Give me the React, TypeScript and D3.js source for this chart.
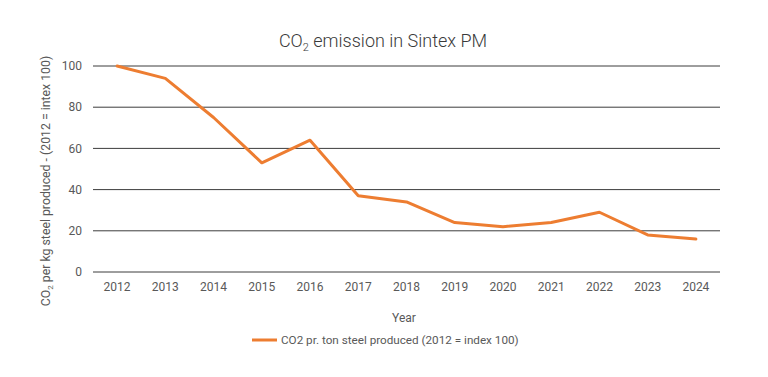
import React from "react";
import * as d3 from "d3";

const years = ["2012","2013","2014","2015","2016","2017","2018","2019","2020","2021","2022","2023","2024"];
const values = [100, 94, 75, 53, 64, 37, 34, 24, 22, 24, 29, 18, 16];
const yTicks = [0, 20, 40, 60, 80, 100];
const seriesName = "CO2 pr. ton steel produced (2012 = index 100)";

export default function App() {
  const W = 768, H = 377;
  const left = 93, right = 720, top = 66, bottom = 272;
  const x = d3.scaleBand<string>().domain(years).range([left, right]);
  const y = d3.scaleLinear().domain([0, 100]).range([bottom, top]);
  const line = d3.line<number>()
    .x((_, i) => (x(years[i]) as number) + x.bandwidth() / 2)
    .y((d) => y(d));
  const font = "Roboto, 'Noto Sans', sans-serif";
  return (
    <svg width={W} height={H} style={{ position: "absolute", left: 0, top: 0, background: "#fff" }} fontFamily={font}>
      <rect width={W} height={H} fill="#fff" />
      <text x={383} y={47} textAnchor="middle" fontSize={18} fill="#3a3a3a" fontWeight={300}>
        CO<tspan fontSize={11} dy={4}>2</tspan><tspan dy={-4}> emission in Sintex PM</tspan>
      </text>
      {yTicks.map((t) => (
        <g key={t}>
          <line x1={left} x2={right} y1={y(t)} y2={y(t)} stroke="#3c3c3c" strokeWidth={1} />
          <text x={82} y={y(t)} dy="0.35em" textAnchor="end" fontSize={12} fill="#595959">{t}</text>
        </g>
      ))}
      {years.map((yr) => (
        <text key={yr} x={(x(yr) as number) + x.bandwidth() / 2} y={291} textAnchor="middle" fontSize={12} fill="#595959">{yr}</text>
      ))}
      <text x={404} y={322} textAnchor="middle" fontSize={12} fill="#595959">Year</text>
      <text transform={`translate(50,${(top + bottom) / 2 + 12}) rotate(-90)`} textAnchor="middle" fontSize={12.3} fill="#595959">
        CO<tspan fontSize={8} dy={3}>2</tspan><tspan dy={-3}> per kg steel produced - (2012 = intex 100)</tspan>
      </text>
      <path d={line(values) || ""} fill="none" stroke="#ED7D31" strokeWidth={3} strokeLinejoin="round" strokeLinecap="round" />
      <line x1={252} x2={277} y1={340} y2={340} stroke="#ED7D31" strokeWidth={3} />
      <text x={281} y={340} dy="0.35em" fontSize={11.7} fill="#595959">{seriesName}</text>
    </svg>
  );
}
